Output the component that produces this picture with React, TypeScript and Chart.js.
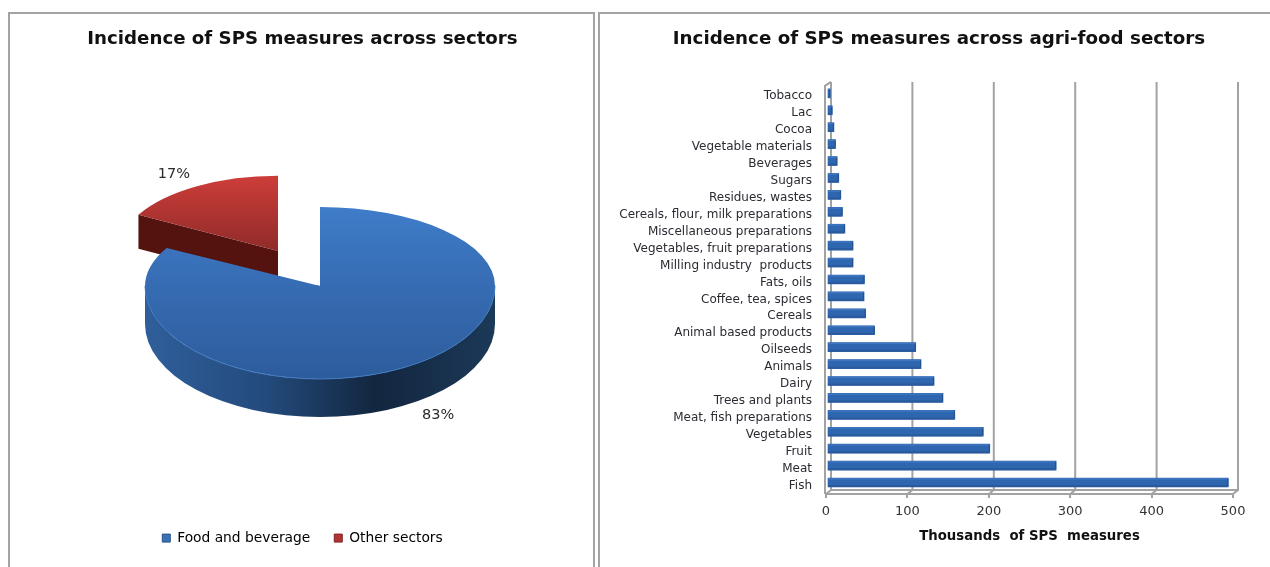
import React, { useEffect, useRef } from "react";
import { Chart, registerables } from "chart.js";

Chart.register(...registerables);

const FONT = "'DejaVu Sans', Verdana, sans-serif";

// Share of SPS measures by broad sector
const pieLabels = ["Food and beverage", "Other sectors"];
const pieValues = [83, 17];

// SPS measures per agri-food sector, thousands
const sectorLabels = [
  "Tobacco", "Lac", "Cocoa", "Vegetable materials", "Beverages", "Sugars",
  "Residues, wastes", "Cereals, flour, milk preparations", "Miscellaneous preparations",
  "Vegetables, fruit preparations", "Milling industry  products", "Fats, oils",
  "Coffee, tea, spices", "Cereals", "Animal based products", "Oilseeds", "Animals",
  "Dairy", "Trees and plants", "Meat, fish preparations", "Vegetables", "Fruit", "Meat", "Fish",
];
const sectorValues = [
  4, 6.5, 8.5, 10.5, 12.5, 14.5, 17, 19, 22, 32, 32, 46, 45.5, 47.5, 58.5,
  109, 115.5, 131.5, 142.5, 157, 192, 200, 281.5, 493,
];

const PIE_RADIUS = 175;

// Vertical gradient for a slice's top face, in the arc's unsquashed coordinates
function topFace(colors: string[][], spans: number[]) {
  return (c: any) => {
    const { chart, dataIndex } = c;
    const area = chart.chartArea;
    const stops = colors[dataIndex];
    if (!area) return stops[0];
    const mid = (area.top + area.bottom) / 2;
    const g = chart.ctx.createLinearGradient(0, mid - PIE_RADIUS, 0, mid + PIE_RADIUS * spans[dataIndex]);
    g.addColorStop(0, stops[0]);
    g.addColorStop(1, stops[1]);
    return g;
  };
}

// Draws each pie slice squashed into a foreshortened ellipse (the far half is
// flatter than the near half), with an extruded wall below it
const tiltedPie = {
  id: "tiltedPie",
  beforeDatasetsDraw(chart: any, _args: any, opts: any) {
    const ctx = chart.ctx;
    const meta = chart.getDatasetMeta(0);
    const values = chart.data.datasets[0].data;
    [1, 0].forEach((i) => {
      const arc = meta.data[i];
      const view = opts.views[i];
      const { startAngle, endAngle, outerRadius } = arc;
      const cx = arc.x + view.dx;
      const cy = Math.round(arc.y + view.dy);
      const rx = outerRadius * view.sx;
      const ryFar = outerRadius * view.syFar;
      const ryNear = outerRadius * view.syNear;
      const ryAt = (a: number) => (Math.sin(a) < 0 ? ryFar : ryNear);
      const d = view.depth;

      // Outer wall along the front half of the rim
      const from = Math.max(startAngle, 0);
      const to = Math.min(endAngle, Math.PI);
      if (to > from) {
        const g = ctx.createLinearGradient(cx - rx, 0, cx + rx, 0);
        view.wall.forEach((s: [number, string]) => g.addColorStop(s[0], s[1]));
        ctx.fillStyle = g;
        ctx.beginPath();
        ctx.ellipse(cx, cy, rx, ryNear, 0, from, to);
        ctx.ellipse(cx, cy + d, rx, ryNear, 0, to, from, true);
        ctx.closePath();
        ctx.fill();
      }

      // Cut faces that look toward the viewer
      [[startAngle, -1], [endAngle, 1]].forEach(([a, side]) => {
        if (Math.sin(a + (side * Math.PI) / 2) <= 0.01) return;
        const px = cx + rx * Math.cos(a);
        const py = cy + ryAt(a) * Math.sin(a);
        ctx.fillStyle = view.cut;
        ctx.beginPath();
        ctx.moveTo(cx, cy);
        ctx.lineTo(px, py);
        ctx.lineTo(px, py + d);
        ctx.lineTo(cx, cy + d);
        ctx.closePath();
        ctx.fill();
      });

      // Top face, drawn by the arc element itself: near half, then far half
      [[ryNear, cy - 1, chart.height], [ryFar, 0, cy]].forEach(([ry, clipTop, clipBottom]) => {
        ctx.save();
        ctx.beginPath();
        ctx.rect(0, clipTop, chart.width, clipBottom - clipTop);
        ctx.clip();
        ctx.translate(cx, cy);
        ctx.scale(view.sx, ry / outerRadius);
        ctx.translate(-arc.x, -arc.y);
        arc.draw(ctx);
        ctx.restore();
      });

      if (view.rim) {
        ctx.strokeStyle = view.rim;
        ctx.lineWidth = 1;
        ctx.beginPath();
        ctx.ellipse(cx, cy, rx, ryNear, 0, from, to);
        ctx.stroke();
      }

      // Percentage label outside the slice
      const mid = (startAngle + endAngle) / 2;
      ctx.fillStyle = "#2a2a2a";
      ctx.font = `14.5px ${FONT}`;
      ctx.textAlign = "center";
      ctx.textBaseline = "middle";
      ctx.fillText(
        `${values[i]}%`,
        cx + rx * Math.cos(mid) + view.labelDx,
        cy + ryAt(mid) * Math.sin(mid) + view.labelDy
      );
    });
    return false;
  },
};

// Back wall, floor and side wall of the pseudo-3D plot box, plus bar shading
const plotBox = {
  id: "plotBox",
  beforeDatasetsDraw(chart: any, _args: any, opts: any) {
    const ctx = chart.ctx;
    const { left, right, top, bottom } = chart.chartArea;
    const { dx, dy } = opts;
    const x = chart.scales.x;
    const wallTop = top - 2;
    ctx.save();
    ctx.strokeStyle = "#a2a2a2";
    ctx.lineWidth = 2;
    x.ticks.forEach((t: any) => {
      const px = x.getPixelForValue(t.value);
      ctx.beginPath();
      ctx.moveTo(px + dx, wallTop - dy);
      ctx.lineTo(px + dx, bottom - dy);
      ctx.lineTo(px, bottom);
      ctx.stroke();
    });
    ctx.beginPath();
    ctx.moveTo(left + dx, bottom - dy);
    ctx.lineTo(right + dx, bottom - dy);
    ctx.stroke();
    ctx.beginPath();
    ctx.moveTo(left - 1, bottom);
    ctx.lineTo(left - 1, wallTop);
    ctx.lineTo(left + dx, wallTop - dy);
    ctx.stroke();
    ctx.restore();
  },
  beforeDatasetDraw(chart: any, _args: any, opts: any) {
    chart.ctx.save();
    chart.ctx.translate(opts.barDx, opts.barDy);
  },
  afterDatasetDraw(chart: any) {
    const ctx = chart.ctx;
    chart.getDatasetMeta(0).data.forEach((bar: any) => {
      const { x, y, base, height } = bar;
      const t = y - height / 2;
      ctx.fillStyle = "#3f76c0";
      ctx.fillRect(base, t, x - base - 1, 1.5);
      ctx.fillStyle = "#2a5a9c";
      ctx.fillRect(base, t + height - 2, x - base - 1, 2);
      ctx.fillStyle = "#244f8a";
      ctx.fillRect(x - 1, t + 1, 1, height - 2);
    });
    ctx.restore();
  },
};

export default function App() {
  const pieRef = useRef<HTMLCanvasElement>(null);
  const barRef = useRef<HTMLCanvasElement>(null);

  useEffect(() => {
    const pie = new Chart(pieRef.current!, {
      type: "pie",
      plugins: [tiltedPie],
      data: {
        labels: pieLabels,
        datasets: [
          {
            data: pieValues,
            radius: PIE_RADIUS,
            borderWidth: 0,
            backgroundColor: topFace(
              [["#3f7cc9", "#2d5c9c"], ["#cd3d39", "#8f2b29"]],
              [1, 0]
            ),
          } as any,
        ],
      },
      options: {
        animation: false,
        responsive: false,
        devicePixelRatio: 1,
        layout: { padding: { left: 3, bottom: 12 } },
        plugins: {
          tooltip: { enabled: false },
          title: {
            display: true,
            text: "Incidence of SPS measures across sectors",
            color: "#111111",
            font: { family: FONT, size: 18.2, weight: "bold" },
            padding: { top: 15, bottom: 19 },
          },
          legend: {
            position: "bottom",
            labels: {
              boxWidth: 8,
              boxHeight: 8,
              padding: 24,
              color: "#222222",
              font: { family: FONT, size: 13.8 },
              generateLabels: () => [
                { text: pieLabels[0], fillStyle: "#3a70b6", strokeStyle: "#2a5288", lineWidth: 1, datasetIndex: 0, index: 0 },
                { text: pieLabels[1], fillStyle: "#b23431", strokeStyle: "#7d2523", lineWidth: 1, datasetIndex: 0, index: 1 },
              ],
            },
          },
          tiltedPie: {
            views: [
              {
                dx: 17.5, dy: -2, sx: 1, syFar: 79 / 175, syNear: 93 / 175, depth: 38,
                wall: [[0, "#2f5f9b"], [0.35, "#234a7b"], [0.66, "#12263f"], [1, "#1c3958"]],
                cut: "#12263f", rim: "#3f78c0", labelDx: 29, labelDy: 49,
              },
              {
                dx: -24.5, dy: -37, sx: 0.91, syFar: 0.43, syNear: 0.43, depth: 34,
                wall: [[0, "#54130f"], [1, "#54130f"]],
                cut: "#54130f", rim: null, labelDx: -23, labelDy: -12,
              },
            ],
          },
        } as any,
      },
    });

    const bars = new Chart(barRef.current!, {
      type: "bar",
      plugins: [plotBox],
      data: {
        labels: sectorLabels,
        datasets: [
          {
            data: sectorValues,
            backgroundColor: "#2f66b0",
            borderWidth: 0,
            barThickness: 9,
          },
        ],
      },
      options: {
        indexAxis: "y",
        animation: false,
        responsive: false,
        devicePixelRatio: 1,
        layout: { padding: { left: 13, right: 13 } },
        scales: {
          x: {
            min: 0,
            max: 500,
            afterFit: (s: any) => { s.height = 73; },
            ticks: {
              stepSize: 100,
              padding: 6,
              maxRotation: 0,
              color: "#333333",
              font: { family: FONT, size: 13 },
            },
            grid: { drawOnChartArea: false, drawTicks: true, tickLength: 4, color: "#a2a2a2", lineWidth: 2 },
            border: { color: "#a2a2a2", width: 2 },
            title: {
              display: true,
              text: "Thousands  of SPS  measures",
              color: "#111111",
              font: { family: FONT, size: 13.3, weight: "bold" },
              padding: { top: 4, bottom: 22 },
            },
          },
          y: {
            afterFit: (s: any) => { s.width = 214; },
            ticks: {
              autoSkip: false,
              padding: 6,
              color: "#2b2b33",
              font: { family: FONT, size: 12 },
            },
            grid: { display: false },
            border: { display: false },
          },
          // Empty strip that keeps the plot clear of the frame's right side
          gutter: {
            type: "linear",
            axis: "y",
            position: "right",
            afterFit: (s: any) => { s.width = 33; },
            ticks: { display: false },
            grid: { display: false },
            border: { display: false },
          },
        },
        plugins: {
          legend: { display: false },
          tooltip: { enabled: false },
          title: {
            display: true,
            text: "Incidence of SPS measures across agri-food sectors",
            color: "#111111",
            font: { family: FONT, size: 18.25, weight: "bold" },
            padding: { top: 15, bottom: 38 },
          },
          plotBox: { dx: 5, dy: 4, barDx: 1, barDy: -3 },
        } as any,
      } as any,
    });

    return () => {
      pie.destroy();
      bars.destroy();
    };
  }, []);

  const frame: React.CSSProperties = {
    position: "absolute",
    top: 12,
    height: 570,
    boxSizing: "border-box",
    borderTop: "2px solid #a3a3a3",
    borderLeft: "2px solid #a3a3a3",
  };

  return (
    <div style={{ position: "absolute", left: 0, top: 0, width: 1270, height: 567, overflow: "hidden", background: "#ffffff" }}>
      <div style={{ ...frame, left: 8, width: 587, borderRight: "2px solid #a3a3a3" }} />
      <div style={{ ...frame, left: 598, width: 680 }} />
      <canvas ref={pieRef} width={584} height={554} style={{ position: "absolute", left: 9, top: 13 }} />
      <canvas ref={barRef} width={680} height={554} style={{ position: "absolute", left: 599, top: 13 }} />
    </div>
  );
}
